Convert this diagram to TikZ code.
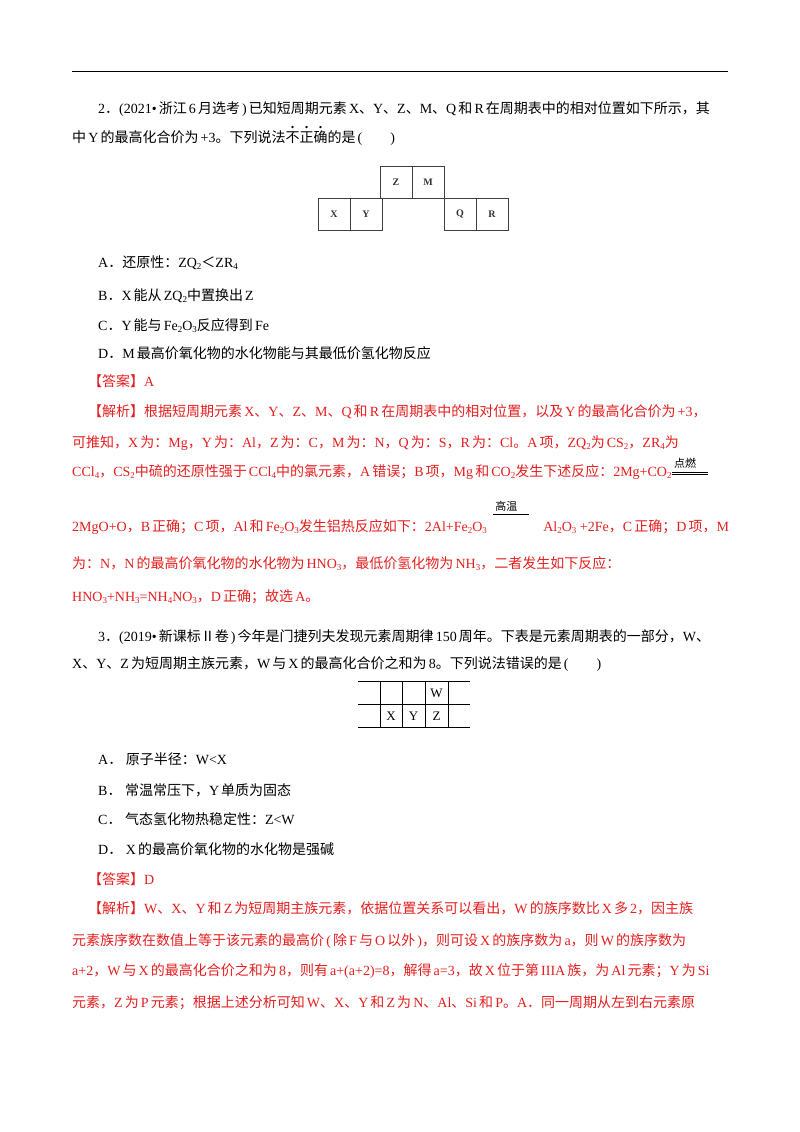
\documentclass[tikz,border=0pt]{standalone}
\usepackage{fontspec}
\usetikzlibrary{calc}
\setmainfont{Liberation Serif}
\newfontfamily\cjk{Noto Sans CJK SC}
\newfontfamily\latn{Liberation Serif}
\XeTeXinterchartokenstate=1
\newXeTeXintercharclass\cjkclass
\newXeTeXintercharclass\cjkpunct
\count255="4E00 \loop \XeTeXcharclass\count255=\cjkclass \advance\count255 1 \ifnum\count255<"A000 \repeat
\count255="3000 \loop \XeTeXcharclass\count255=\cjkpunct \advance\count255 1 \ifnum\count255<"3040 \repeat
\count255="FF00 \loop \XeTeXcharclass\count255=\cjkpunct \advance\count255 1 \ifnum\count255<"FF66 \repeat
\count255="2160 \loop \XeTeXcharclass\count255=\cjkclass \advance\count255 1 \ifnum\count255<"2180 \repeat
\XeTeXinterchartoks 0 \cjkclass = {\hskip0.15em\cjk}
\XeTeXinterchartoks 4095 \cjkclass = {\cjk}
\XeTeXinterchartoks \cjkclass 0 = {\latn\hskip0.15em}
\XeTeXinterchartoks \cjkclass 4095 = {\latn}
\XeTeXinterchartoks 0 \cjkpunct = {\cjk}
\XeTeXinterchartoks 4095 \cjkpunct = {\cjk}
\XeTeXinterchartoks \cjkpunct 0 = {\latn}
\XeTeXinterchartoks \cjkpunct 4095 = {\latn}
\newcommand\sub[1]{\raisebox{-0.35ex}{\fontsize{9}{9}\selectfont #1}}
\newcommand\dotc[1]{\rlap{\raisebox{0.95em}{\makebox[14pt]{\textbf{.}}}}#1}
\definecolor{ansred}{RGB}{228,30,30}
\begin{document}
\begin{tikzpicture}[x=1pt,y=-1pt,
  t/.style={anchor=base west,inner sep=0,font=\fontsize{14}{16}\selectfont},
  r/.style={t,text=ansred},
  cell/.style={draw=black!75,line width=0.8pt,minimum width=32pt,minimum height=32pt,inner sep=0,font=\fontsize{10}{10}\selectfont\bfseries,text=black!80},
  small/.style={inner sep=0,font=\fontsize{11}{11}\selectfont}]
\useasboundingbox (0,0) rectangle (800,1132);
\draw[line width=1pt] (72,72) -- (728,72);
\node[t] (q2a) at (98,113) {2．(2021•浙江6月选考)已知短周期元素X、Y、Z、M、Q和R在周期表中的相对位置如下所示，其};
\node[t] (q2b) at (72,142) {中Y的最高化合价为+3。下列说法\dotc{不}\dotc{正}\dotc{确}的是(　　)};
\node[cell] (cz) at (396,182) {Z};
\node[cell] (cm) at (428,182) {M};
\node[cell] (cx) at (334,214) {X};
\node[cell] (cy) at (366,214) {Y};
\node[cell] (cq) at (460,214) {Q};
\node[cell] (cr) at (492,214) {R};
\node[t] (oa) at (98,267) {A．还原性：ZQ\sub{2}＜ZR\sub{4}};
\node[t] (ob) at (98,300) {B．X能从ZQ\sub{2}中置换出Z};
\node[t] (oc) at (98,330) {C．Y能与Fe\sub{2}O\sub{3}反应得到Fe};
\node[t] (od) at (98,358) {D．M最高价氧化物的水化物能与其最低价氢化物反应};
\node[r] (ans2) at (88,386) {【答案】A};
\node[r] (j1) at (88,416) {【解析】根据短周期元素X、Y、Z、M、Q和R在周期表中的相对位置，以及Y的最高化合价为+3，};
\node[r] (j2) at (72,447) {可推知，X为：Mg，Y为：Al，Z为：C，M为：N，Q为：S，R为：Cl。A项，ZQ\sub{2}为CS\sub{2}，ZR\sub{4}为};
\node[r] (j3) at (72,476) {CCl\sub{4}，CS\sub{2}中硫的还原性强于CCl\sub{4}中的氯元素，A错误；B项，Mg和CO\sub{2}发生下述反应：2Mg+CO\sub{2}};
\node[small,anchor=base west] (dr) at ($(j3.base east)+(2,-9)$) {点燃};
\draw[line width=0.8pt] ($(j3.base east)+(0,-4)$) -- ++(36,0) ($(j3.base east)+(0,-1.5)$) -- ++(36,0);
\node[r] (j4) at (72,531) {2MgO+O，B正确；C项，Al和Fe\sub{2}O\sub{3}发生铝热反应如下：2Al+Fe\sub{2}O\sub{3}};
\node[small,anchor=base west] (gw) at ($(j4.base east)+(8,-21)$) {高温};
\draw[line width=0.8pt] ($(j4.base east)+(6,-17)$) -- ++(36,0);
\node[r] (j4b) at ($(j4.base east)+(56,0)$) {Al\sub{2}O\sub{3} +2Fe，C正确；D项，M};
\node[r] (j5) at (72,568) {为：N，N的最高价氧化物的水化物为HNO\sub{3}，最低价氢化物为NH\sub{3}，二者发生如下反应：};
\node[r] (j6) at (72,601) {HNO\sub{3}+NH\sub{3}=NH\sub{4}NO\sub{3}，D正确；故选A。};
\node[t] (q3a) at (98,641) {3．(2019•新课标Ⅱ卷)今年是门捷列夫发现元素周期律150周年。下表是元素周期表的一部分，W、};
\node[t] (q3b) at (72,668) {X、Y、Z为短周期主族元素，W与X的最高化合价之和为8。下列说法错误的是(　　)};
\draw[line width=0.8pt] (358,681) -- (470,681) (358,704) -- (470,704) (358,727) -- (470,727)
  (380,681) -- (380,727) (402,681) -- (402,727) (425,681) -- (425,727) (448,681) -- (448,727);
\node[inner sep=0,font=\fontsize{13}{13}\selectfont] (tw) at (436.5,693) {W};
\node[inner sep=0,font=\fontsize{13}{13}\selectfont] (tx) at (391,716) {X};
\node[inner sep=0,font=\fontsize{13}{13}\selectfont] (ty) at (413.5,716) {Y};
\node[inner sep=0,font=\fontsize{13}{13}\selectfont] (tz) at (436.5,716) {Z};
\node[t] (pa) at (98,764) {A．\ 原子半径：W<X};
\node[t] (pb) at (98,795) {B．\ 常温常压下，Y单质为固态};
\node[t] (pc) at (98,824) {C．\ 气态氢化物热稳定性：Z<W};
\node[t] (pd) at (98,854) {D．\ X的最高价氧化物的水化物是强碱};
\node[r] (ans3) at (88,884) {【答案】D};
\node[r] (k1) at (88,913) {【解析】W、X、Y和Z为短周期主族元素，依据位置关系可以看出，W的族序数比X多2，因主族};
\node[r] (k2) at (72,945) {元素族序数在数值上等于该元素的最高价(除F与O以外)，则可设X的族序数为a，则W的族序数为};
\node[r] (k3) at (72,975) {a+2，W与X的最高化合价之和为8，则有a+(a+2)=8，解得a=3，故X位于第IIIA族，为Al元素；Y为Si};
\node[r] (k4) at (72,1007) {元素，Z为P元素；根据上述分析可知W、X、Y和Z为N、Al、Si和P。A．同一周期从左到右元素原};
\end{tikzpicture}
\end{document}
